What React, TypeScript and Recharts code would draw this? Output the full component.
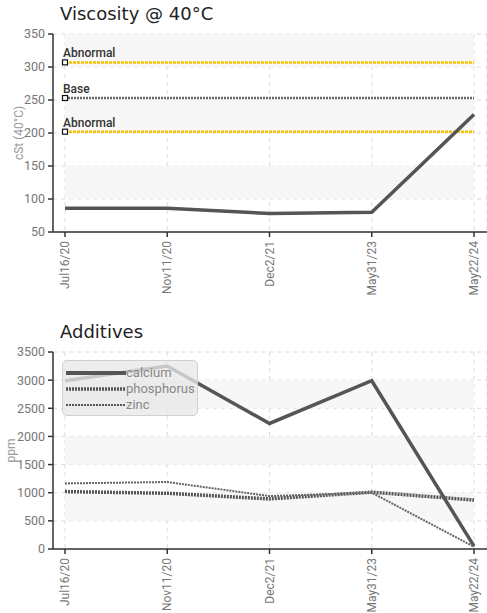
import React from "react";
import {
  LineChart,
  Line,
  XAxis,
  YAxis,
  CartesianGrid,
  ReferenceArea,
  ReferenceLine,
  ReferenceDot,
} from "recharts";

const dates = ["Jul16/20", "Nov11/20", "Dec2/21", "May31/23", "May22/24"];
const viscosity = [86, 86, 78, 80, 228];
const viscosityTicks = [50, 100, 150, 200, 250, 300, 350];
const viscosityLimits = [
  { name: "Abnormal", value: 307, color: "#f5c400" },
  { name: "Base", value: 253, color: "#666666" },
  { name: "Abnormal", value: 202, color: "#f5c400" },
];

const calcium = [2990, 3250, 2230, 2990, 50];
const phosphorus = [1020, 990, 890, 1010, 870];
const zinc = [1165, 1190, 940, 1000, 40];
const additiveTicks = [0, 500, 1000, 1500, 2000, 2500, 3000, 3500];
const additiveSeries = [
  { key: "calcium", color: "#555", width: 3.5, dash: undefined as string | undefined, legendWidth: 4 },
  { key: "phosphorus", color: "#555", width: 3.5, dash: "2 1", legendWidth: 3.5 },
  { key: "zinc", color: "#666", width: 2, dash: "2 1", legendWidth: 2 },
];

const viscosityData = dates.map((d, i) => ({ date: d, viscosity: viscosity[i] }));
const additiveData = dates.map((d, i) => ({
  date: d,
  calcium: calcium[i],
  phosphorus: phosphorus[i],
  zinc: zinc[i],
}));

const TICK_FONT = "Roboto, sans-serif";
const AXIS = "#333";
const LINE = "#555";

const DateTick = (props: any) => {
  const { x, y, payload } = props;
  return (
    <g transform={`translate(${x},${y})`}>
      <text
        transform="rotate(-90)"
        x={-2}
        y={0}
        dy={4}
        textAnchor="end"
        fill="#777"
        fontSize={12}
        fontFamily={TICK_FONT}
      >
        {payload.value}
      </text>
    </g>
  );
};

const AxisTitle = (text: string, cx: number) => (props: any) => {
  const { viewBox } = props;
  const cy = viewBox.y + viewBox.height / 2;
  return (
    <text
      x={cx}
      y={cy}
      transform={`rotate(-90, ${cx}, ${cy})`}
      textAnchor="middle"
      dominantBaseline="central"
      fill="#999"
      fontSize={12}
      fontFamily={TICK_FONT}
    >
      {text}
    </text>
  );
};

const LimitMarker = (label: string) => (p: any) => (
  <g>
    <rect x={p.cx - 2.5} y={p.cy - 2.5} width={5} height={5} fill="#fff" stroke="#111" strokeWidth={1.2} />
    <text x={p.cx - 2} y={p.cy - 5} fontSize={12} fontWeight={500} fill="#333" fontFamily={TICK_FONT}>
      {label}
    </text>
  </g>
);

const AdditiveLegend = () => (
  <div
    style={{
      position: "absolute",
      left: 62,
      top: 360,
      width: 136,
      height: 56,
      background: "rgba(232,232,232,0.78)",
      border: "1px solid #d0d0d0",
      borderRadius: 5,
      boxSizing: "border-box",
      paddingTop: 4,
      paddingLeft: 3,
    }}
  >
    {additiveSeries.map((s) => (
      <div key={s.key} style={{ display: "flex", alignItems: "center", height: 16 }}>
        <svg width={60} height={8}>
          <line x1={0} y1={4} x2={60} y2={4} stroke={LINE} strokeWidth={s.legendWidth} strokeDasharray={s.dash} />
        </svg>
        <span style={{ fontFamily: TICK_FONT, fontSize: 13, color: "#888", lineHeight: "16px" }}>{s.key}</span>
      </div>
    ))}
  </div>
);

const titleStyle: React.CSSProperties = {
  position: "absolute",
  left: 60,
  fontFamily: "DejaVu Sans, sans-serif",
  fontSize: 18,
  color: "#222",
  lineHeight: "20px",
};

const yTick = { fill: "#777", fontSize: 12.5, fontFamily: TICK_FONT };

export default function App() {
  return (
    <div style={{ position: "absolute", left: 0, top: 0, width: 487, height: 613, background: "#fff", overflow: "hidden" }}>
      <div style={{ ...titleStyle, top: 4 }}>Viscosity @ 40°C</div>
      <div style={{ position: "absolute", left: 0, top: 25 }}>
        <LineChart width={487} height={275} data={viscosityData} margin={{ top: 9, right: 0, bottom: 0, left: 0 }}>
          {[100, 200, 300].map((v) => (
            <ReferenceArea key={v} y1={v} y2={v + 50} fill="#f7f7f7" fillOpacity={1} stroke="none" />
          ))}
          <CartesianGrid stroke="#dcdcdc" strokeDasharray="4 4" />
          <XAxis
            dataKey="date"
            padding={{ left: 12, right: 13 }}
            height={68}
            interval={0}
            tick={<DateTick />}
            tickSize={5}
            stroke={AXIS}
            strokeWidth={1.5}
          />
          <YAxis
            domain={[50, 350]}
            ticks={viscosityTicks}
            width={53}
            tickSize={5}
            tickMargin={3}
            stroke={AXIS}
            strokeWidth={1.5}
            tick={yTick}
            label={{ content: AxisTitle("cSt (40°C)", 19) }}
          />
          {viscosityLimits.map((l, i) => (
            <ReferenceLine
              key={"l" + i}
              segment={[
                { x: dates[0], y: l.value },
                { x: dates[dates.length - 1], y: l.value },
              ]}
              stroke={l.color}
              strokeWidth={2.5}
              strokeDasharray={i === 1 ? "2 1" : "3 1"}
            />
          ))}
          {viscosityLimits.map((l, i) => (
            <ReferenceDot key={"d" + i} x={dates[0]} y={l.value} shape={LimitMarker(l.name)} />
          ))}
          <Line dataKey="viscosity" stroke={LINE} strokeWidth={3.5} dot={false} isAnimationActive={false} />
        </LineChart>
      </div>

      <div style={{ ...titleStyle, top: 322 }}>Additives</div>
      <div style={{ position: "absolute", left: 0, top: 343 }}>
        <LineChart width={487} height={274} data={additiveData} margin={{ top: 9, right: 0, bottom: 0, left: 0 }}>
          {[500, 1500, 2500].map((v) => (
            <ReferenceArea key={v} y1={v} y2={v + 500} fill="#f7f7f7" fillOpacity={1} stroke="none" />
          ))}
          <CartesianGrid stroke="#dcdcdc" strokeDasharray="4 4" />
          <XAxis
            dataKey="date"
            padding={{ left: 12, right: 13 }}
            height={68}
            interval={0}
            tick={<DateTick />}
            tickSize={5}
            stroke={AXIS}
            strokeWidth={1.5}
          />
          <YAxis
            domain={[0, 3500]}
            ticks={additiveTicks}
            width={53}
            tickSize={5}
            tickMargin={3}
            stroke={AXIS}
            strokeWidth={1.5}
            tick={yTick}
            label={{ content: AxisTitle("ppm", 11) }}
          />
          {additiveSeries.map((s) => (
            <Line
              key={s.key}
              dataKey={s.key}
              stroke={s.color}
              strokeWidth={s.width}
              strokeDasharray={s.dash}
              dot={false}
              isAnimationActive={false}
            />
          ))}
        </LineChart>
      </div>
      <AdditiveLegend />
    </div>
  );
}
